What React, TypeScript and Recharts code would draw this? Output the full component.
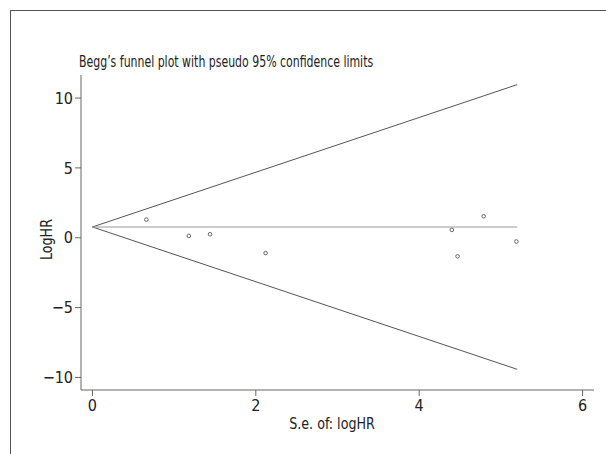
import { ComposedChart, Scatter, XAxis, YAxis } from "recharts";

const studySe = [0.66, 1.18, 1.44, 2.12, 4.4, 4.47, 4.79, 5.19];
const studyLogHr = [1.3, 0.13, 0.25, -1.1, 0.56, -1.33, 1.54, -0.27];

const funnelSe = [0, 5.2];
const pooledLogHr = [0.77, 0.77];
const upperLimit = [0.77, 10.96];
const lowerLimit = [0.77, -9.42];

const xTicks = [0, 2, 4, 6];
const yTicks = [-10, -5, 0, 5, 10];

const FONT = "'DejaVu Sans Condensed', 'DejaVu Sans', sans-serif";

const studies = studySe.map((se, i) => ({ x: se, y: studyLogHr[i] }));
const toLine = (ys: number[]) => funnelSe.map((se, i) => ({ x: se, y: ys[i] }));

const noDot = () => <g />;

const Marker = (props: any) => (
  <circle cx={props.cx} cy={props.cy} r={1.8} fill="#fff" stroke="#666" strokeWidth={1} />
);

const minus = (v: number) => String(v).replace("-", "\u2212");

const text = {
  position: "absolute" as const,
  fontFamily: FONT,
  fontStretch: "condensed",
  fontSize: 16,
  color: "#222",
  whiteSpace: "nowrap" as const,
};

export default function App() {
  const tick = { fill: "#222", fontSize: 16, fontFamily: FONT, fontStretch: "condensed" };
  return (
    <div style={{ position: "absolute", left: 0, top: 0, width: 606, height: 454, background: "#fff" }}>
      <div
        style={{
          position: "absolute",
          left: 10,
          top: 10,
          right: 0,
          bottom: 0,
          borderLeft: "1.5px solid #555",
          borderTop: "1.5px solid #555",
        }}
      />
      <ComposedChart width={606} height={454} margin={{ top: 75, right: 12, bottom: 34, left: 41 }}>
        <XAxis
          type="number"
          dataKey="x"
          domain={[-0.14, 6.14]}
          ticks={xTicks}
          allowDataOverflow
          stroke="#666"
          tickSize={6}
          tickMargin={4}
          tick={tick}
          height={30}
        />
        <YAxis
          type="number"
          dataKey="y"
          domain={[-10.9, 11.65]}
          ticks={yTicks}
          allowDataOverflow
          stroke="#666"
          tickSize={6}
          tickMargin={2}
          tick={tick}
          tickFormatter={minus}
          width={40}
        />
        <Scatter data={toLine(upperLimit)} line={{ stroke: "#555", strokeWidth: 1 }} shape={noDot} isAnimationActive={false} />
        <Scatter data={toLine(lowerLimit)} line={{ stroke: "#555", strokeWidth: 1 }} shape={noDot} isAnimationActive={false} />
        <Scatter data={toLine(pooledLogHr)} line={{ stroke: "#999", strokeWidth: 1.2 }} shape={noDot} isAnimationActive={false} />
        <Scatter data={studies} shape={Marker} isAnimationActive={false} />
      </ComposedChart>
      <div style={{ ...text, left: 79, top: 52, transform: "scaleX(0.76)", transformOrigin: "left" }}>
        Begg’s funnel plot with pseudo 95% confidence limits
      </div>
      <div style={{ ...text, left: 232, width: 200, top: 414, textAlign: "center", transform: "scaleX(0.88)" }}>
        S.e. of: logHR
      </div>
      <div
        style={{
          ...text,
          left: 46 - 50,
          width: 100,
          top: 241 - 11,
          textAlign: "center",
          transform: "rotate(-90deg) scaleX(0.88)",
        }}
      >
        LogHR
      </div>
    </div>
  );
}
